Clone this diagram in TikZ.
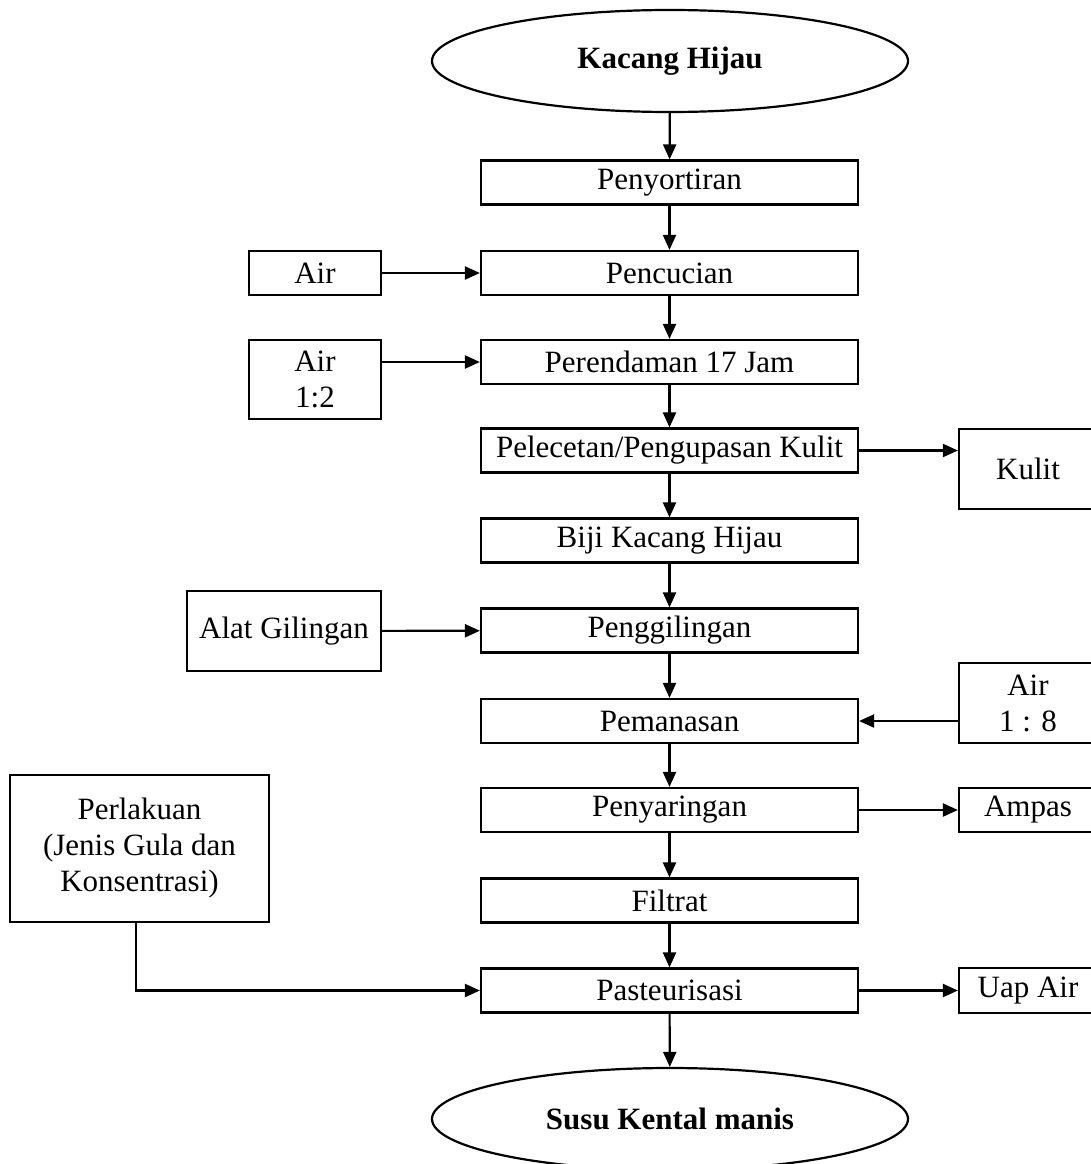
\documentclass[tikz,border=0pt]{standalone}
\usepackage{fontspec}
\setmainfont{Liberation Serif}
\usetikzlibrary{arrows.meta,shapes.geometric}
\begin{document}
\begin{tikzpicture}[x=1pt,y=-1pt,
  every node/.style={font=\fontsize{31}{36}\selectfont, inner sep=0pt, align=center},
  box/.style={draw, line width=2.2pt},
  oval/.style={draw, line width=2.2pt, ellipse, minimum width=476pt, minimum height=102pt, font=\fontsize{31}{36}\selectfont\bfseries},
  arr/.style={line width=2.2pt, -{Triangle[length=15pt,width=13pt]}},
  mainbox/.style={box, minimum width=377pt, minimum height=44pt}]
\useasboundingbox (0,0) rectangle (1091,1164);
\clip (0,0) rectangle (1091,1164);
% ellipses
\node[oval] (top) at (670,61) {Kacang Hijau};
\node[oval] (bot) at (670,1119) {Susu Kental manis};
% main boxes
\node[mainbox] (b1) at (669.5,182.5) {Penyortiran};
\node[mainbox] (b2) at (669.5,273) {Pencucian};
\node[mainbox] (b3) at (669.5,362) {Perendaman 17 Jam};
\node[mainbox] (b4) at (669.5,450.5) {Pelecetan/Pengupasan Kulit};
\node[mainbox] (b5) at (669.5,540.5) {Biji Kacang Hijau};
\node[mainbox] (b6) at (669.5,630.5) {Penggilingan};
\node[mainbox] (b7) at (669.5,721) {Pemanasan};
\node[mainbox] (b8) at (669.5,810) {Penyaringan};
\node[mainbox] (b9) at (669.5,900.5) {Filtrat};
\node[mainbox] (b10) at (669.5,990.5) {Pasteurisasi};
% left boxes
\node[box, minimum width=132pt, minimum height=44pt] (l1) at (315,273) {Air};
\node[box, minimum width=132pt, minimum height=79pt] (l2) at (315,379.5) {Air\\1:2};
\node[box, minimum width=194pt, minimum height=80pt] (l3) at (284,631) {Alat Gilingan};
\node[box, minimum width=259pt, minimum height=147pt] (l4) at (139.5,848.5) {Perlakuan\\(Jenis Gula dan\\Konsentrasi)};
\coordinate (l4out) at (136,922);
% right boxes (cut off by the page edge)
\node[box, minimum width=138pt, minimum height=80pt] (r1) at (1028,469) {Kulit};
\node[box, minimum width=138pt, minimum height=80pt] (r2) at (1028,703) {Air\\1 : 8};
\node[box, minimum width=138pt, minimum height=44pt] (r3) at (1028,810) {Ampas};
\node[box, minimum width=138pt, minimum height=45pt] (r4) at (1028,990.5) {Uap Air};
% vertical flow
\draw[arr] (top) -- (b1);
\draw[arr] (b1) -- (b2);
\draw[arr] (b2) -- (b3);
\draw[arr] (b3) -- (b4);
\draw[arr] (b4) -- (b5);
\draw[arr] (b5) -- (b6);
\draw[arr] (b6) -- (b7);
\draw[arr] (b7) -- (b8);
\draw[arr] (b8) -- (b9);
\draw[arr] (b9) -- (b10);
\draw[arr] (b10) -- (bot);
% side arrows
\draw[arr] (l1) -- (b2);
\draw[arr] (l2.east |- b3) -- (b3.west);
\draw[arr] (l3) -- (b6);
\draw[arr] (b4.east) -- (r1.west |- b4);
\draw[arr] (r2.west |- b7) -- (b7.east);
\draw[arr] (b8) -- (r3);
\draw[arr] (b10) -- (r4);
\draw[arr] (l4out) |- (b10.west);
\end{tikzpicture}
\end{document}
